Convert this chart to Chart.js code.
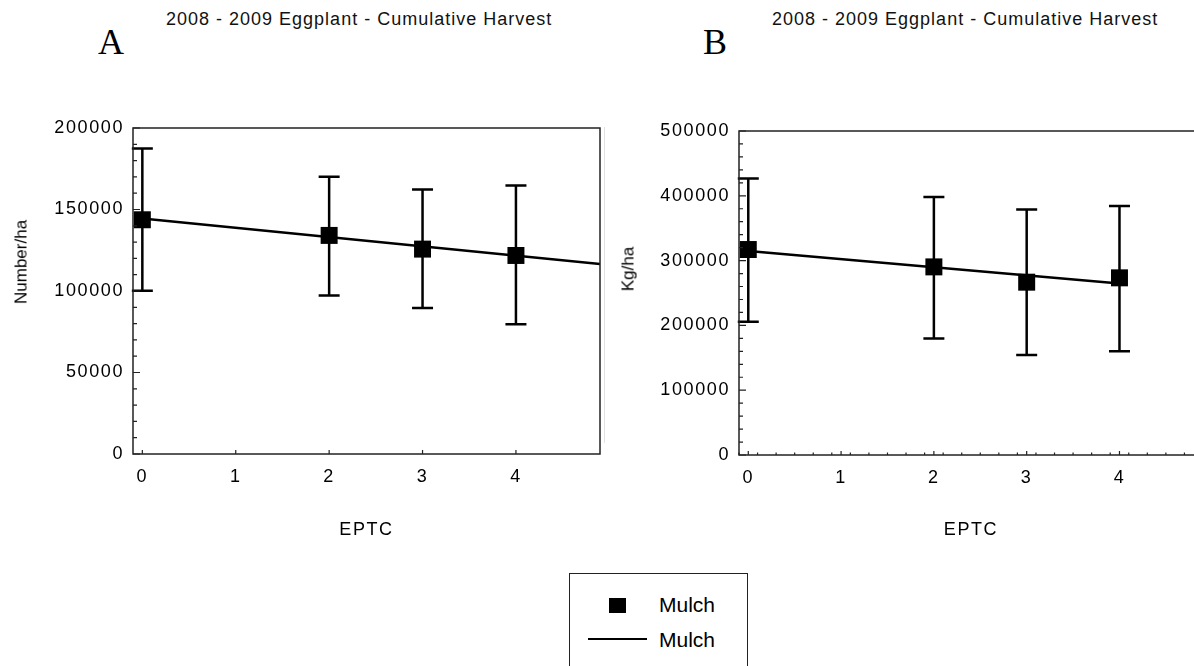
<!DOCTYPE html>
<html><head><meta charset="utf-8">
<script src="https://cdn.jsdelivr.net/npm/chart.js@4.4.1/dist/chart.umd.min.js"></script>
<style>
html,body{margin:0;padding:0;background:#fff;}
body{width:1194px;height:666px;overflow:hidden;position:relative;font-family:"Liberation Sans",Arial,sans-serif;}
.abs{position:absolute;}
.ptitle{font-size:18px;line-height:18px;letter-spacing:1px;color:#111;white-space:nowrap;}
.letter{font-family:"Liberation Serif","Times New Roman",serif;font-size:36px;line-height:36px;color:#000;}
.leg{font-size:21px;line-height:21px;color:#000;white-space:nowrap;}
.ytitle{font-size:17px;line-height:17px;color:#000;white-space:nowrap;transform:translate(-50%,-50%) rotate(-90deg);}
</style></head><body>
<div class="abs letter" style="left:98px;top:24px;">A</div>
<div class="abs ptitle" style="left:166px;top:10px;">2008 - 2009 Eggplant - Cumulative Harvest</div>
<div class="abs letter" style="left:703px;top:24px;">B</div>
<div class="abs ptitle" style="left:772px;top:10px;">2008 - 2009 Eggplant - Cumulative Harvest</div>

<div class="abs" style="left:0;top:0;width:620px;height:560px;"><canvas id="cA" width="620" height="560"></canvas></div>
<div class="abs" style="left:604px;top:127px;width:1px;height:316px;background:#e2e2e2;"></div>
<div class="abs" style="left:600px;top:0;width:620px;height:560px;"><canvas id="cB" width="620" height="560"></canvas></div>
<div class="abs ytitle" style="left:21px;top:262px;">Number/ha</div>
<div class="abs ytitle" style="left:628px;top:269px;">Kg/ha</div>

<div class="abs" style="left:569px;top:573px;width:177px;height:140px;border:1.5px solid #222;"></div>
<div class="abs" style="left:609px;top:598px;width:17px;height:15px;background:#000;"></div>
<div class="abs leg" style="left:659px;top:594px;">Mulch</div>
<div class="abs" style="left:588px;top:638px;width:59px;height:2px;background:#000;"></div>
<div class="abs leg" style="left:659px;top:629px;">Mulch</div>

<script>
// ---- data ----
const xTickLabels = [0, 1, 2, 3, 4];
const eptc = [0, 2, 3, 4];

const numberHa     = [143700, 134100, 125700, 121800];
const numberHaLow  = [100100,  97200,  89500,  79600];
const numberHaHigh = [187500, 170100, 162300, 164800];
const fitXA = [0, 4.9];
const fitYA = [144500, 116600];
const yTicksA = [0, 50000, 100000, 150000, 200000];

const kgHa     = [317100, 290300, 266700, 273400];
const kgHaLow  = [205500, 179900, 154200, 160300];
const kgHaHigh = [426600, 398200, 378800, 384400];
const fitXB = [0, 4];
const fitYB = [315000, 264700];
const yTicksB = [0, 100000, 200000, 300000, 400000, 500000];

const seriesName = 'Mulch';

// ---- plugin: box, inward ticks, error bars ----
const decor = {
  id: 'decor',
  beforeDraw(chart) { chart.ctx.letterSpacing = '1.6px'; },
  beforeDatasetsDraw(chart, args, opts) {
    const {ctx, scales: {x, y}} = chart;
    ctx.save();
    ctx.strokeStyle = '#000'; ctx.lineWidth = 2.5;
    chart.data.datasets.forEach(ds => {
      if (!ds.errLow) return;
      ds.data.forEach((p, j) => {
        const px = x.getPixelForValue(p.x);
        const lo = y.getPixelForValue(ds.errLow[j]);
        const hi = y.getPixelForValue(ds.errHigh[j]);
        ctx.beginPath();
        ctx.moveTo(px, lo); ctx.lineTo(px, hi);
        ctx.moveTo(px - opts.cap, lo); ctx.lineTo(px + opts.cap, lo);
        ctx.moveTo(px - opts.cap, hi); ctx.lineTo(px + opts.cap, hi);
        ctx.stroke();
      });
    });
    ctx.restore();
  },
  afterDraw(chart, args, opts) {
    const {ctx, chartArea: a, scales: {x, y}} = chart;
    ctx.save();
    ctx.strokeStyle = '#222'; ctx.lineWidth = 1.5;
    ctx.strokeRect(a.left, a.top, a.right - a.left, a.bottom - a.top);
    ctx.lineWidth = 1.2;
    ctx.beginPath();
    const nY = Math.round((y.max - y.min) / opts.yMinor);
    for (let i = 0; i <= nY; i++) {
      const v = y.min + i * opts.yMinor;
      const major = (i % opts.yMinorPer) === 0;
      const py = y.getPixelForValue(v);
      ctx.moveTo(a.left, py); ctx.lineTo(a.left + (major ? 7 : 4), py);
    }
    xTickLabels.forEach(v => {
      const px = x.getPixelForValue(v);
      ctx.moveTo(px, a.bottom); ctx.lineTo(px, a.bottom - 4);
    });
    if (opts.xMinor) {
      const n = Math.round((x.max - x.min) / opts.xMinor);
      for (let i = 0; i <= n; i++) {
        const v = x.min + i * opts.xMinor;
        const px = x.getPixelForValue(v);
        ctx.moveTo(px, a.bottom); ctx.lineTo(px, a.bottom - 2.5);
      }
    }
    ctx.stroke();
    ctx.restore();
  }
};

const tickFont = {family: "'Liberation Sans', Arial, sans-serif", size: 18};

function makeChart(id, cfg) {
  return new Chart(document.getElementById(id), {
    type: 'scatter',
    data: {
      datasets: [
        {
          label: seriesName,
          data: eptc.map((v, i) => ({x: v, y: cfg.vals[i]})),
          errLow: cfg.low, errHigh: cfg.high,
          pointStyle: 'rect', pointRadius: 12, pointHoverRadius: 12,
          backgroundColor: '#000', borderWidth: 0, order: 0
        },
        {
          type: 'line', label: seriesName,
          data: cfg.fitX.map((v, i) => ({x: v, y: cfg.fitY[i]})),
          borderColor: '#000', borderWidth: 2.5, pointRadius: 0,
          fill: false, tension: 0, order: 1
        }
      ]
    },
    options: {
      responsive: false, animation: false, events: [],
      layout: {padding: {top: cfg.top, right: cfg.right, left: 0, bottom: 0}},
      plugins: {
        legend: {display: false}, tooltip: {enabled: false},
        decor: {cap: 10.5, yMinor: cfg.yMinor, yMinorPer: cfg.yMinorPer, xMinor: cfg.xMinor}
      },
      scales: {
        x: {
          type: 'linear', min: -0.1, max: 4.9,
          afterBuildTicks: s => { s.ticks = xTickLabels.map(v => ({value: v})); },
          afterFit: s => { s.height = cfg.xh; },
          grid: {display: false, drawTicks: false},
          border: {display: false},
          ticks: {font: tickFont, color: '#000', padding: 12, maxRotation: 0, callback: v => String(v)},
          title: {display: true, text: 'EPTC', color: '#000', font: tickFont, padding: {top: 0, bottom: 19}}
        },
        y: {
          type: 'linear', min: 0, max: cfg.ymax,
          afterBuildTicks: s => { s.ticks = cfg.yTicks.map(v => ({value: v})); },
          afterFit: s => { s.width = cfg.yw; },
          grid: {display: false, drawTicks: false},
          border: {display: false},
          ticks: {font: tickFont, color: '#000', padding: 9, callback: v => String(v)},
          title: {display: false}
        }
      }
    },
    plugins: [decor]
  });
}

makeChart('cA', {vals: numberHa, low: numberHaLow, high: numberHaHigh, fitX: fitXA, fitY: fitYA,
  yTicks: yTicksA, ymax: 200000, yMinor: 10000, yMinorPer: 5, xMinor: 0,
  top: 128, right: 20, xh: 106, yw: 133});
makeChart('cB', {vals: kgHa, low: kgHaLow, high: kgHaHigh, fitX: fitXB, fitY: fitYB,
  yTicks: yTicksB, ymax: 500000, yMinor: 20000, yMinorPer: 5, xMinor: 0.2,
  top: 131, right: 17, xh: 105, yw: 139});
</script>
</body></html>
